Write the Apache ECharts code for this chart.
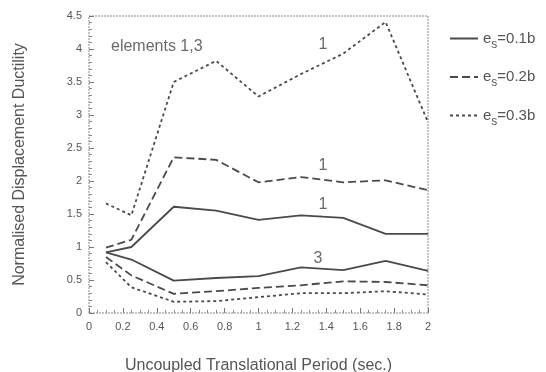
<!DOCTYPE html>
<html><head><meta charset="utf-8">
<script src="https://cdn.jsdelivr.net/npm/echarts@6/dist/echarts.min.js"></script>
<style>html,body{margin:0;padding:0;background:#fff}#c{width:546px;height:372px}</style>
</head><body><div id="c"></div>
<script>
// Data
const periods = [0.1, 0.25, 0.5, 0.75, 1.0, 1.25, 1.5, 1.75, 2.0];
const es01_el1 = [0.92, 1.00, 1.61, 1.55, 1.41, 1.48, 1.44, 1.20, 1.20];
const es01_el3 = [0.92, 0.81, 0.49, 0.53, 0.56, 0.69, 0.65, 0.79, 0.64];
const es02_el1 = [0.99, 1.11, 2.36, 2.32, 1.98, 2.06, 1.98, 2.01, 1.86];
const es02_el3 = [0.85, 0.57, 0.29, 0.33, 0.38, 0.42, 0.48, 0.47, 0.42];
const es03_el1 = [1.66, 1.48, 3.50, 3.82, 3.28, 3.62, 3.93, 4.41, 2.89];
const es03_el3 = [0.77, 0.39, 0.17, 0.18, 0.24, 0.30, 0.30, 0.33, 0.28];
const legendNames = ['e_s=0.1b', 'e_s=0.2b', 'e_s=0.3b'];
const annotations = [
  {x: 0.4, y: 4.03, text: 'elements 1,3'},
  {x: 1.38, y: 4.06, text: '1'},
  {x: 1.38, y: 2.24, text: '1'},
  {x: 1.38, y: 1.64, text: '1'},
  {x: 1.35, y: 0.83, text: '3'}
];
const xTitle = 'Uncoupled Translational Period (sec.)';
const yTitle = 'Normalised Displacement Ductility';

const FONT = 'Liberation Sans, Arial, sans-serif';
const lineColor = '#4a4a4a';
const textColor = '#555';
const styles = [
  {type: 'solid', width: 1.8},
  {type: [8, 4], width: 1.8},
  {type: [3, 3], width: 1.8}
];
const pairs = [[es01_el1, es01_el3], [es02_el1, es02_el3], [es03_el1, es03_el3]];
const series = [];
pairs.forEach((pair, i) => {
  pair.forEach(vals => {
    series.push({
      name: legendNames[i], type: 'line', symbol: 'none', silent: true,
      data: periods.map((p, k) => [p, vals[k]]),
      lineStyle: {color: lineColor, type: styles[i].type, width: styles[i].width},
      itemStyle: {color: lineColor}
    });
  });
});
series.push({
  type: 'scatter', symbolSize: 0, silent: true,
  data: annotations.map(a => ({value: [a.x, a.y], label: {formatter: a.text}})),
  label: {show: true, position: 'inside', color: '#444', fontSize: 16, fontFamily: FONT}
});

const chart = echarts.init(document.getElementById('c'), null, {renderer: 'canvas'});
chart.setOption({
  animation: false,
  backgroundColor: '#fff',
  textStyle: {fontFamily: FONT, color: textColor},
  grid: {left: 89, right: 118, top: 16, bottom: 59, show: true, borderColor: '#888', borderWidth: 1,
         borderType: [2, 1],
         backgroundColor: 'transparent', containLabel: false, outerBoundsMode: 'none'},
  legend: {
    data: legendNames, orient: 'vertical', left: 444, top: 26,
    itemWidth: 28, itemHeight: 14, itemGap: 19, selectedMode: false,
    itemStyle: {opacity: 0, borderWidth: 0},
    formatter: function (n) {
      const parts = n.split('_');
      const rest = parts[1];
      return '{e|' + parts[0] + '}{s|' + rest[0] + '}{e|' + rest.slice(1) + '}';
    },
    textStyle: {
      color: textColor,
      rich: {
        e: {fontSize: 15, color: textColor, fontFamily: FONT},
        s: {fontSize: 12, color: textColor, padding: [12, 0, 0, 0], fontFamily: FONT}
      }
    }
  },
  xAxis: {
    type: 'value', min: 0, max: 2, interval: 0.2,
    name: xTitle, nameLocation: 'middle', nameGap: 45,
    nameTextStyle: {fontSize: 16, color: textColor},
    axisLine: {show: false},
    axisTick: {show: true, inside: true, length: 5, lineStyle: {color: '#777'}},
    minorTick: {show: true, splitNumber: 4, length: 3, lineStyle: {color: '#888'}},
    splitLine: {show: false},
    axisLabel: {fontSize: 11, color: textColor, margin: 8, formatter: v => String(+v.toFixed(1))}
  },
  yAxis: {
    type: 'value', min: 0, max: 4.5, interval: 0.5,
    name: yTitle, nameLocation: 'middle', nameGap: 61,
    nameTextStyle: {fontSize: 16, color: textColor},
    axisLine: {show: false},
    axisTick: {show: true, inside: true, length: 5, lineStyle: {color: '#777'}},
    minorTick: {show: true, splitNumber: 5, length: 3, lineStyle: {color: '#888'}},
    splitLine: {show: false},
    axisLabel: {fontSize: 11, color: textColor, margin: 7, formatter: v => String(+v.toFixed(1))}
  },
  series: series
});
</script></body></html>
